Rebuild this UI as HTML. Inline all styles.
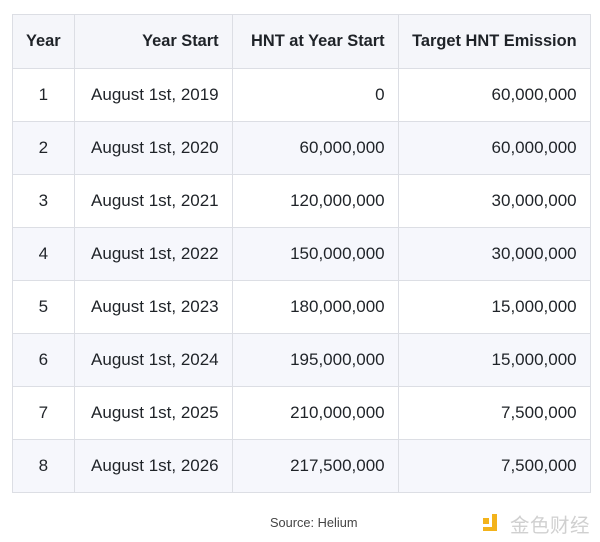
<!DOCTYPE html>
<html><head><meta charset="utf-8">
<style>
html,body{margin:0;padding:0;background:#fff;width:600px;height:542px;overflow:hidden;}
body{font-family:"Liberation Sans","Noto Sans CJK SC",sans-serif;color:#1f2328;position:relative;}
table{position:absolute;left:12px;top:14px;border-collapse:collapse;table-layout:fixed;}
td,th{border:1px solid #dcdee4;height:53px;padding:0 13px;font-size:17px;white-space:nowrap;box-sizing:border-box;}
th{font-weight:bold;font-size:16.4px;background:#f5f6fa;height:54px;}
tr.alt td{background:#f6f7fc;}
.c{text-align:center;}
.r{text-align:right;}
.src{position:absolute;left:270px;top:515px;font-size:12.8px;color:#444;}
.logo{position:absolute;left:483px;top:514px;width:110px;height:24px;}
.sq{position:absolute;background:#f3b31b;}
.lt{position:absolute;left:27px;top:-5px;font-size:19.5px;color:#d0d0d0;letter-spacing:0.5px;font-family:"Noto Sans CJK SC",sans-serif;}
</style></head><body>
<table>
<colgroup><col style="width:60px"><col style="width:158px"><col style="width:166px"><col style="width:192px"></colgroup>
<tr><th class="c">Year</th><th class="r">Year Start</th><th class="r">HNT at Year Start</th><th class="r">Target HNT Emission</th></tr>
<tr><td class="c">1</td><td class="r">August 1st, 2019</td><td class="r">0</td><td class="r">60,000,000</td></tr>
<tr class="alt"><td class="c">2</td><td class="r">August 1st, 2020</td><td class="r">60,000,000</td><td class="r">60,000,000</td></tr>
<tr><td class="c">3</td><td class="r">August 1st, 2021</td><td class="r">120,000,000</td><td class="r">30,000,000</td></tr>
<tr class="alt"><td class="c">4</td><td class="r">August 1st, 2022</td><td class="r">150,000,000</td><td class="r">30,000,000</td></tr>
<tr><td class="c">5</td><td class="r">August 1st, 2023</td><td class="r">180,000,000</td><td class="r">15,000,000</td></tr>
<tr class="alt"><td class="c">6</td><td class="r">August 1st, 2024</td><td class="r">195,000,000</td><td class="r">15,000,000</td></tr>
<tr><td class="c">7</td><td class="r">August 1st, 2025</td><td class="r">210,000,000</td><td class="r">7,500,000</td></tr>
<tr class="alt"><td class="c">8</td><td class="r">August 1st, 2026</td><td class="r">217,500,000</td><td class="r">7,500,000</td></tr>
</table>
<div class="src">Source: Helium</div>
<div class="logo">
<div class="sq" style="left:0;top:4px;width:6px;height:6px;"></div>
<div class="sq" style="left:9px;top:0;width:5px;height:17px;"></div>
<div class="sq" style="left:0;top:13px;width:14px;height:4px;"></div>
<div class="lt">金色财经</div>
</div>
</body></html>
